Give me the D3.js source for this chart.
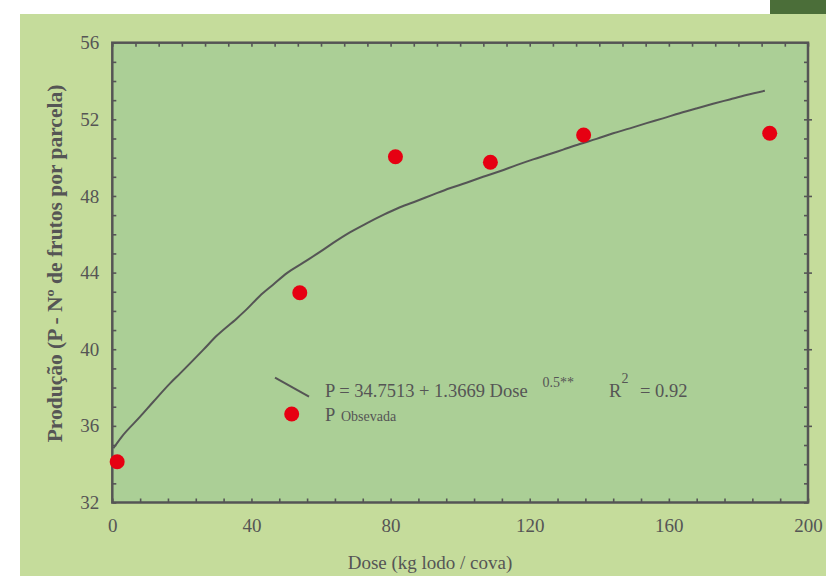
<!DOCTYPE html>
<html><head><meta charset="utf-8">
<script src="https://cdn.jsdelivr.net/npm/d3@7"></script>
<style>html,body{margin:0;padding:0;background:#fff;}svg{display:block;}</style>
</head><body>
<script>
// Observed data points
const obsDose = [1.4, 53.9, 81.4, 108.7, 135.5, 189.0];
const obsP    = [34.13, 42.95, 50.05, 49.76, 51.18, 51.27];
// Fitted curve
const curveDose = [0.3, 2.7, 8.0, 11.8, 16.6, 19.5, 26.2, 30.0, 35.8, 38.6, 42.4, 46.3, 50.1, 54.9, 59.7,
  63.5, 68.3, 73.1, 77.9, 82.7, 87.5, 92.2, 97.0, 101.8, 106.6, 111.4, 116.2, 121.0, 125.8,
  129.6, 134.4, 139.2, 144.0, 148.8, 153.6, 158.3, 163.1, 167.9, 172.7, 177.5, 182.3, 187.6];
const curveP = [34.83, 35.43, 36.48, 37.26, 38.22, 38.74, 39.98, 40.70, 41.61, 42.08, 42.78, 43.38, 43.96, 44.52, 45.08,
  45.55, 46.10, 46.57, 47.01, 47.41, 47.74, 48.07, 48.40, 48.69, 49.00, 49.29, 49.61, 49.91, 50.19,
  50.42, 50.71, 50.98, 51.27, 51.53, 51.80, 52.05, 52.32, 52.57, 52.81, 53.04, 53.27, 53.49];
const xTicks = [0, 40, 80, 120, 160, 200];
const yTicks = [32, 36, 40, 44, 48, 52, 56];
const xTitle = "Dose (kg lodo / cova)";
const yTitle = "Produção (P - Nº de frutos por parcela)";
const eqText = "P = 34.7513 + 1.3669 Dose";
const eqExp = "0.5**";
const r2Label = "R";
const r2Exp = "2";
const r2Value = "= 0.92";
const obsLabel = "P";
const obsSub = "Obsevada";

const W = 826, H = 576;
const L = 112.3, R = 808, T = 42.7, B = 502.5;
const ink = "#555555", red = "#e60012";
const font = "'Liberation Serif','Times New Roman',serif";

const svg = d3.select("body").append("svg").attr("width", W).attr("height", H);
svg.append("rect").attr("x",0).attr("y",0).attr("width",W).attr("height",H).attr("fill","#fff");
svg.append("rect").attr("x",20).attr("y",14).attr("width",W-20).attr("height",H-14).attr("fill","#c5dc9b");
svg.append("rect").attr("x",770).attr("y",0).attr("width",56).attr("height",14).attr("fill","#4b6e39");

const x = d3.scaleLinear().domain([0,200]).range([L,R]);
const y = d3.scaleLinear().domain([32,56]).range([B,T]);
const xTop = d3.scaleLinear().domain([0,30]).range([L,R]);

svg.append("rect").attr("x",L).attr("y",T).attr("width",R-L).attr("height",B-T).attr("fill","#abcf96");

function styleAxis(g){ g.select(".domain").remove(); g.selectAll("line").attr("stroke",ink).attr("stroke-width",1.6); }

// minor ticks
svg.append("g").attr("transform",`translate(0,${B})`)
  .call(d3.axisBottom(x).tickValues(d3.range(0,201,8)).tickSize(-4).tickFormat("")).call(styleAxis);
svg.append("g").attr("transform",`translate(0,${T})`)
  .call(d3.axisTop(xTop).tickValues(d3.range(0,31,1)).tickSize(-4).tickFormat("")).call(styleAxis);
svg.append("g").attr("transform",`translate(${L},0)`)
  .call(d3.axisLeft(y).tickValues(d3.range(32,57,1)).tickSize(-4).tickFormat("")).call(styleAxis);
svg.append("g").attr("transform",`translate(${R},0)`)
  .call(d3.axisRight(y).tickValues(d3.range(32,57,1)).tickSize(-4).tickFormat("")).call(styleAxis);
svg.append("g").attr("transform",`translate(${R},0)`)
  .call(d3.axisRight(y).tickValues(yTicks.slice(1,-1)).tickSize(4).tickFormat("")).call(styleAxis);

// labels
const gx = svg.append("g").attr("transform",`translate(0,${B})`)
  .call(d3.axisBottom(x).tickValues(xTicks).tickSize(0).tickFormat(d3.format("d")));
gx.select(".domain").remove();
gx.selectAll("text").attr("y",29).attr("dy",0).attr("fill",ink)
  .style("font-family",font).style("font-size","19px");
const gy = svg.append("g").attr("transform",`translate(${L},0)`)
  .call(d3.axisLeft(y).tickValues(yTicks).tickSize(0).tickFormat(d3.format("d")));
gy.select(".domain").remove();
gy.selectAll("text").attr("x",-13).attr("dy","0.32em").attr("fill",ink)
  .style("font-family",font).style("font-size","19px");

// frame
svg.append("rect").attr("x",L).attr("y",T).attr("width",R-L).attr("height",B-T)
  .attr("fill","none").attr("stroke",ink).attr("stroke-width",2.5);

// curve
const curve = curveDose.map((d,i)=>[d,curveP[i]]);
svg.append("path").datum(curve)
  .attr("d", d3.line().curve(d3.curveMonotoneX).x(d=>x(d[0])).y(d=>y(d[1])))
  .attr("fill","none").attr("stroke",ink).attr("stroke-width",2);

// points
svg.append("g").selectAll("circle").data(obsDose.map((d,i)=>[d,obsP[i]])).join("circle")
  .attr("cx",d=>x(d[0])).attr("cy",d=>y(d[1])).attr("r",7.5).attr("fill",red);

// axis titles
svg.append("text").attr("x",430).attr("y",569).attr("text-anchor","middle")
  .attr("fill",ink).style("font-family",font).style("font-size","19px").text(xTitle);
svg.append("text").attr("transform","translate(62,263.5) rotate(-90)").attr("text-anchor","middle")
  .attr("fill",ink).style("font-family",font).style("font-size","21.5px").style("font-weight","bold").text(yTitle);

// legend
svg.append("line").attr("x1",275).attr("y1",377.7).attr("x2",309).attr("y2",396.7)
  .attr("stroke",ink).attr("stroke-width",2);
const tf = (sel,size)=>sel.attr("fill",ink).style("font-family",font).style("font-size",size+"px");
svg.append("text").attr("x",325).attr("y",397).text(eqText).call(tf,18.5);
svg.append("text").attr("x",542.5).attr("y",387).text(eqExp).call(tf,14);
svg.append("text").attr("x",609).attr("y",397).text(r2Label).call(tf,18.5);
svg.append("text").attr("x",621.5).attr("y",383).text(r2Exp).call(tf,14);
svg.append("text").attr("x",640).attr("y",397).text(r2Value).call(tf,18.5);
svg.append("circle").attr("cx",291.7).attr("cy",414).attr("r",7.5).attr("fill",red);
svg.append("text").attr("x",325).attr("y",421).text(obsLabel).call(tf,18.5);
svg.append("text").attr("x",341).attr("y",421).text(obsSub).call(tf,14);
</script>
</body></html>
